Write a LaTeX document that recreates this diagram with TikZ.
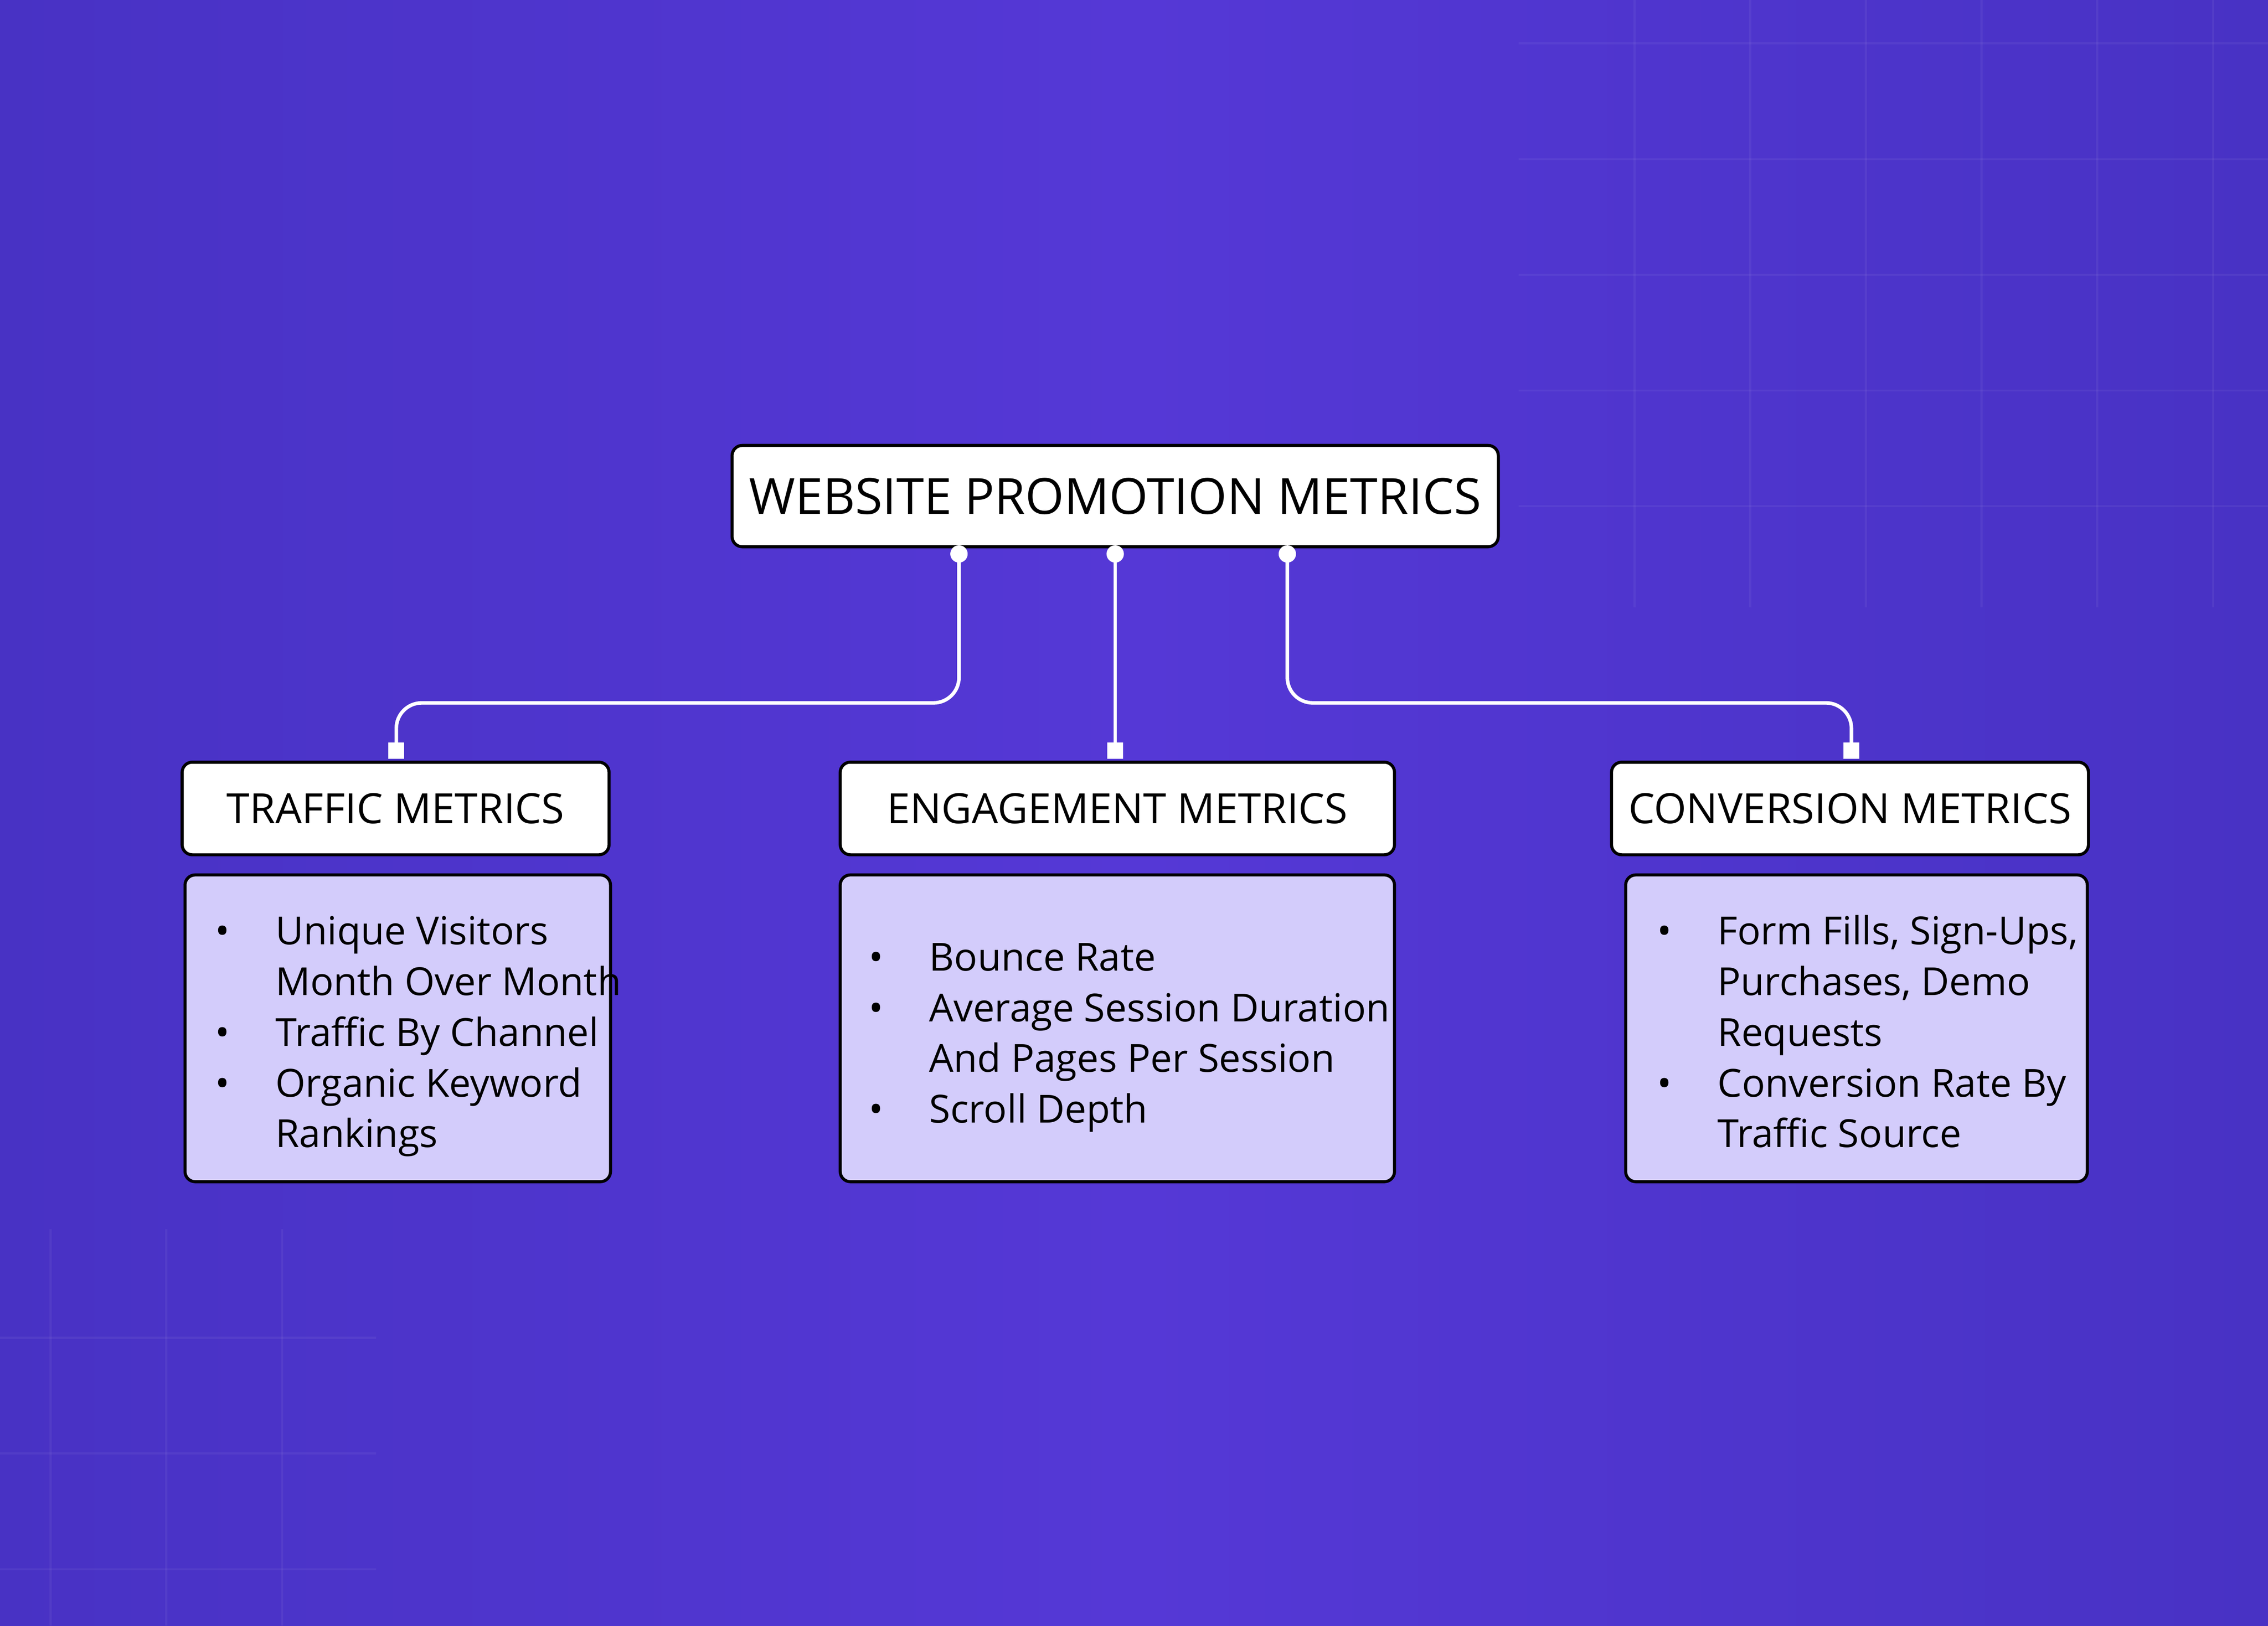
\documentclass[tikz,border=0pt]{standalone}
\usepackage{fontspec}
\setmainfont{Open Sans}
\definecolor{bgA}{HTML}{4832C4}
\definecolor{bgB}{HTML}{5538D6}
\definecolor{lav}{HTML}{D3CCFB}
\begin{document}
\begin{tikzpicture}[x=0.01cm,y=-0.01cm,
  hdr/.style={draw=black,line width=0.6pt,fill=white,rounded corners=2pt,font=\fontsize{8.2}{10}\selectfont},
  body/.style={draw=black,line width=0.6pt,fill=lav,rounded corners=2pt},
  btxt/.style={font=\fontsize{7.6}{9.96}\selectfont,align=left,anchor=north west,inner sep=0pt},
  conn/.style={draw=white,line width=0.7pt,rounded corners=5pt},
  dot/.style={circle,fill=white,inner sep=0pt,minimum size=0.12cm},
  sq/.style={rectangle,fill=white,inner sep=0pt,minimum size=0.11cm}]
\shade[left color=bgA,right color=bgA,middle color=bgB] (0,0) rectangle (1568,1124);
\useasboundingbox (0,0) rectangle (1568,1124);
\foreach \x in {1130,1210,1290,1370,1450,1530}{\draw[white,opacity=0.05] (\x,0)--(\x,420);}
\foreach \y in {30,110,190,270,350}{\draw[white,opacity=0.05] (1050,\y)--(1568,\y);}
\foreach \x in {35,115,195}{\draw[white,opacity=0.05] (\x,850)--(\x,1124);}
\foreach \y in {925,1005,1085}{\draw[white,opacity=0.05] (0,\y)--(260,\y);}
\node[hdr,minimum width=4.9cm,minimum height=0.7cm,font=\fontsize{9.8}{12}\selectfont] (top) at (771,343) {WEBSITE PROMOTION METRICS};
\node[hdr,minimum width=2.95cm,minimum height=0.64cm] (h1) at (273.5,559) {TRAFFIC METRICS};
\node[hdr,minimum width=3.83cm,minimum height=0.64cm] (h2) at (772.5,559) {ENGAGEMENT METRICS};
\node[hdr,minimum width=3.10cm,minimum height=0.64cm] (h3) at (1279,559) {CONVERSION METRICS};
\node[body,minimum width=2.94cm,minimum height=2.12cm] (b1) at (275,711) {};
\node[body,minimum width=3.83cm,minimum height=2.12cm] (b2) at (772.5,711) {};
\node[body,minimum width=3.19cm,minimum height=2.12cm] (b3) at (1283.5,711) {};
\node[btxt] (t1) at (148,628) {\begin{tabular}{@{}l@{\hspace{9pt}}l@{}}\textbullet&Unique Visitors\\&Month Over Month\\\textbullet&Traffic By Channel\\\textbullet&Organic Keyword\\&Rankings\end{tabular}};
\node[btxt] (t2) at (600,646) {\begin{tabular}{@{}l@{\hspace{9pt}}l@{}}\textbullet&Bounce Rate\\\textbullet&Average Session Duration\\&And Pages Per Session\\\textbullet&Scroll Depth\end{tabular}};
\node[btxt] (t3) at (1145,628) {\begin{tabular}{@{}l@{\hspace{9pt}}l@{}}\textbullet&Form Fills, Sign-Ups,\\&Purchases, Demo\\&Requests\\\textbullet&Conversion Rate By\\&Traffic Source\end{tabular}};
\coordinate (c1) at (663,383); \coordinate (c2) at (771,383); \coordinate (c3) at (890,383);
\coordinate (s1) at (274,519); \coordinate (s2) at (771,519); \coordinate (s3) at (1280,519);
\draw[conn] (c1) -- (663,486) -- (274,486) -- (s1);
\draw[conn] (c2) -- (s2);
\draw[conn] (c3) -- (890,486) -- (1280,486) -- (s3);
\foreach \c in {c1,c2,c3}{\node[dot] at (\c) {};}
\foreach \s in {s1,s2,s3}{\node[sq] at (\s) {};}
\end{tikzpicture}
\end{document}
